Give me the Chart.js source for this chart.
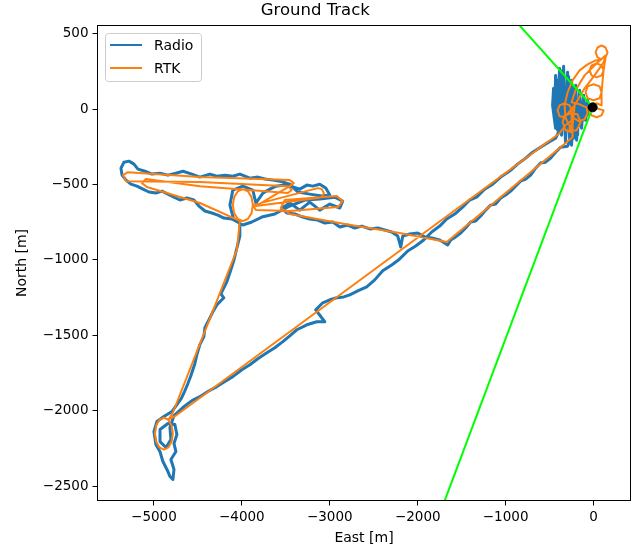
<!DOCTYPE html>
<html>
<head>
<meta charset="utf-8">
<script src="https://cdn.jsdelivr.net/npm/chart.js@4.4.0/dist/chart.umd.min.js"></script>
<style>
  html, body { margin: 0; padding: 0; background: #fff; }
  canvas { display: block; }
</style>
</head>
<body>
<canvas id="track" width="643" height="551"></canvas>
<script>
// Radio track (east / north in metres)
const radioEast = [
  -45,-68,-91,-113,-136,-159,-182,-204,-227,-250,-272,-296,-319,-341,-364,-387,-409,-432,-443,-455,
  -466,-432,-409,-375,-352,-319,-284,-250,-216,-193,-159,-125,-91,-68,-216,-296,
  -375,-432,-488,-546,-603,-659,-716,-772,-830,-887,-943,-1000,-1056,-1114,-1171,-1227,-1284,-1341,-1398,-1455,-1511,-1568,-1625,-1659,
  -1750,-1841,-1921,-2001,-2091,-2170,-2193,-2227,-2296,-2375,-2454,-2545,-2637,-2716,-2796,-2886,-2966,-3057,-3137,-3228,-3307,-3397,-3489,
  -3545,-3455,-3341,-3228,-3114,-3000,-2886,-2853,-2944,-3114,-3284,-3455,-3625,-3773,
  -3887,-3989,-4091,-4136,-4103,-3989,-3875,-3841,
  -3761,-3681,-3613,-3512,-3420,
  -3341,-3261,-3193,-3114,-3046,-3000,-3092,-3228,-3364,-3455,
  -3568,-3648,-3739,-3819,-3909,-4023,-4103,-4193,-4284,-4364,-4478,-4568,-4671,-4750,-4841,-4931,-5023,-5102,-5182,-5227,-5284,-5341,-5375,-5363,
  -5318,-5262,-5194,-5125,-5057,-4978,-4910,-4841,-4772,-4704,-4626,-4546,-4488,-4420,-4341,-4273,-4204,-4114,-4023,
  -4023,-4068,-4090,-4126,-4171,-4239,-4205,-4285,-4330,-4375,-4421,-4432,-4478,-4512,-4535,-4580,-4614,-4652,-4690,-4739,-4795,
  -4887,-4966,-5000,-4978,-4932,-4898,-4852,-4818,-4784,-4772,-4807,-4750,-4772,-4739,-4762,-4841,-4931,-4931,-4863,-4807,-4818,-4772,
  -4671,-4568,-4478,-4387,-4284,-4193,-4103,-4000,-3909,-3819,-3716,-3625,-3534,-3455,-3375,-3261,-3148,-3057,-3160,-3080,
  -3000,-2921,-2841,-2773,-2682,-2580,-2489,-2398,-2296,-2205,-2114,-2023,-1932,-1841,-1750,-1670,-1579,-1489,-1409,-1330,
  -1239,-1147,-1056,-955,-864,-772,-693,-603,-511,-432,-387
];
const radioNorth = [
  -20,60,-73,93,-126,126,-172,159,-192,192,-205,245,-192,285,-172,271,-139,225,-73,139,
  26,-126,192,-152,258,-218,218,-238,139,-205,86,-60,33,-33,-139,-245,
  -252,-285,-324,-351,-357,-391,-437,-463,-477,-510,-543,-569,-589,-629,-636,-669,-708,-741,-748,-788,-821,-847,-867,-900,
  -867,-854,-847,-821,-828,-841,-914,-841,-814,-801,-788,-794,-775,-788,-768,-781,-748,-755,-735,-728,-715,-695,-688,
  -655,-622,-669,-616,-669,-629,-655,-609,-583,-596,-602,-642,-695,-715,
  -748,-768,-735,-636,-536,-510,-536,-622,
  -556,-530,-510,-503,-516,
  -530,-503,-510,-497,-523,-569,-576,-563,-549,-497,
  -477,-470,-463,-450,-457,-430,-444,-437,-444,-430,-450,-430,-411,-424,-437,-424,-430,-411,-397,-364,-344,-351,-391,-437,
  -470,-497,-510,-530,-549,-556,-543,-563,-583,-602,-589,-602,-642,-675,-688,-702,-722,-728,-755,
  -841,-947,-1000,-1066,-1145,-1225,-1251,-1298,-1344,-1397,-1450,-1509,-1562,-1629,-1688,-1768,-1820,-1873,-1920,-1960,-2006,
  -2039,-2072,-2138,-2224,-2271,-2337,-2390,-2436,-2456,-2390,-2324,-2271,-2218,-2158,-2092,-2085,-2125,-2205,-2244,-2191,-2112,-2032,
  -1979,-1933,-1907,-1873,-1840,-1807,-1774,-1728,-1695,-1655,-1615,-1582,-1542,-1503,-1463,-1430,-1410,-1410,-1331,-1284,
  -1264,-1251,-1245,-1231,-1205,-1178,-1132,-1072,-1033,-993,-940,-907,-867,-814,-775,-728,-695,-649,-602,-583,
  -530,-497,-450,-410,-364,-324,-285,-252,-218,-192,-139
];

// RTK track (east / north in metres)
const rtkEast = [
  0,114,91,34,-23,-45,-23,34,91,
  91,68,0,-68,-91,-68,0,68,91,
  114,91,34,-23,-45,-23,34,91,114,
  136,159,136,91,45,23,45,91,
  23,-68,-159,-239,-295,-330,-318,-273,
  -273,-193,-148,-182,-250,-330,-352,-318,-250,
  -250,-273,-330,-386,-409,-386,-330,
  -216,-102,11,114,136,
  45,-102,-205,-250,
  -159,-80,-68,-102,-170,-239,-250,-216,
  -239,-239,
  -1670,-2205,-2829,-3455,-3557,-3512,-2921,-2853,-2909,-3455,-3841,
  -3875,-3890,-3932,-3989,-4046,-4088,-4103,-4088,-4046,-3989,-3932,-3890,-3875,
  -3136,-3091,-3068,-3091,-3136,-3841,
  -3455,-3409,-3455,-4477,-5296,-5352,-5318,-4477,-3477,-3432,-3477,-4477,-5091,-5136,-5080,-4477,-4023,-4057,-4784,
  -4836,-4799,-4785,-4799,-4836,-4887,-4938,-4975,-4989,-4975,-4938,-4887,-4836,-4750,
  -387,-319,-216
];
const rtkNorth = [
  13,-7,-40,-53,-40,-7,26,40,26,
  113,152,166,152,113,73,60,73,113,
  258,291,305,291,258,225,212,225,258,
  344,377,410,424,410,377,344,331,
  324,298,258,192,113,26,-60,-106,
  -146,-139,-86,-33,-26,-40,-86,-139,-152,
  -7,26,40,26,-7,-46,-53,
  26,139,225,311,357,
  311,225,126,46,
  33,13,-26,-66,-79,-53,-13,20,
  -106,-185,
  -880,-821,-761,-695,-655,-602,-576,-609,-649,-675,-669,
  -636,-583,-544,-530,-544,-583,-636,-689,-728,-742,-728,-689,-636,
  -523,-530,-556,-583,-589,-642,
  -510,-490,-470,-450,-417,-437,-477,-483,-510,-536,-556,-510,-463,-490,-516,-622,-741,-933,-2012,
  -2060,-2099,-2152,-2205,-2244,-2258,-2244,-2205,-2152,-2099,-2060,-2046,-2060,-2032,
  -159,-106,-60
];

// antenna pointing limits and home position
const beamLeftEast = [-10, -1672];
const beamLeftNorth = [15, 1097];
const beamRightEast = [-10, -1777];
const beamRightNorth = [15, -2727];
const homeEast = [-10];
const homeNorth = [13];

// axes
const xTicks = [-5000, -4000, -3000, -2000, -1000, 0];
const yTicks = [500, 0, -500, -1000, -1500, -2000, -2500];
const xLimits = [-5642, 420];
const yLimits = [-2596, 556];

function toPoints(east, north) {
    return east.map((e, i) => ({ x: e, y: north[i] }));
}

function minusSign(value) {
    return String(value).replace('-', '\u2212');
}

const font = 'DejaVu Sans';

// spines on all four sides plus a matplotlib style legend
const frameAndLegend = {
    id: 'frameAndLegend',
    afterDatasetsDraw(chart) {
        const ctx = chart.ctx;
        const a = chart.chartArea;
        ctx.save();
        ctx.strokeStyle = '#000';
        ctx.lineWidth = 1;
        ctx.strokeRect(a.left, a.top, a.right - a.left, a.bottom - a.top);

        // legend box
        ctx.fillStyle = 'rgba(255,255,255,0.8)';
        ctx.strokeStyle = '#cccccc';
        ctx.beginPath();
        ctx.roundRect(105.5, 33.5, 96, 48, 3);
        ctx.fill();
        ctx.stroke();

        const items = chart.data.datasets.filter(d => d.label);
        items.forEach((d, i) => {
            const y = 45 + i * 23;
            ctx.strokeStyle = d.borderColor;
            ctx.lineWidth = 2;
            ctx.beginPath();
            ctx.moveTo(110, y);
            ctx.lineTo(142, y);
            ctx.stroke();
            ctx.fillStyle = '#000';
            ctx.font = '14px "' + font + '"';
            ctx.textBaseline = 'middle';
            ctx.fillText(d.label, 154, y + 1);
        });
        ctx.restore();
    }
};

const trackChart = new Chart(document.getElementById('track'), {
    type: 'scatter',
    data: {
        datasets: [
            {
                label: 'Radio',
                data: toPoints(radioEast, radioNorth),
                showLine: true,
                borderColor: '#1f77b4',
                backgroundColor: '#1f77b4',
                borderWidth: 3,
                borderJoinStyle: 'round',
                pointRadius: 0,
                order: 3
            },
            {
                label: 'RTK',
                data: toPoints(rtkEast, rtkNorth),
                showLine: true,
                borderColor: '#ff7f0e',
                backgroundColor: '#ff7f0e',
                borderWidth: 2,
                borderJoinStyle: 'round',
                pointRadius: 0,
                order: 2
            },
            {
                data: toPoints(beamLeftEast, beamLeftNorth),
                showLine: true,
                borderColor: '#00ff00',
                borderWidth: 2,
                pointRadius: 0,
                order: 1
            },
            {
                data: toPoints(beamRightEast, beamRightNorth),
                showLine: true,
                borderColor: '#00ff00',
                borderWidth: 2,
                pointRadius: 0,
                order: 1
            },
            {
                data: toPoints(homeEast, homeNorth),
                pointRadius: 4.5,
                pointBackgroundColor: '#000',
                pointBorderColor: '#000',
                order: 0
            }
        ]
    },
    options: {
        responsive: false,
        animation: false,
        events: [],
        layout: { padding: { left: 0, right: 12.5, top: 0, bottom: 0 } },
        plugins: {
            legend: { display: false },
            tooltip: { enabled: false },
            title: {
                display: true,
                text: 'Ground Track',
                color: '#000',
                font: { family: font, size: 16.5, weight: 'normal' },
                padding: { top: 1, bottom: 4.7 }
            }
        },
        scales: {
            x: {
                type: 'linear',
                min: xLimits[0],
                max: xLimits[1],
                afterBuildTicks: scale => { scale.ticks = xTicks.map(v => ({ value: v })); },
                afterFit: scale => { scale.height = 50.5; },
                grid: { drawOnChartArea: false, color: '#000', tickLength: 5 },
                border: { display: false },
                ticks: {
                    color: '#000',
                    font: { family: font, size: 13.5 },
                    padding: 4,
                    maxRotation: 0,
                    callback: minusSign
                },
                title: {
                    display: true,
                    text: 'East [m]',
                    color: '#000',
                    font: { family: font, size: 14 },
                    padding: { top: 0, bottom: 4.5 }
                }
            },
            y: {
                type: 'linear',
                min: yLimits[0],
                max: yLimits[1],
                afterBuildTicks: scale => { scale.ticks = yTicks.map(v => ({ value: v })); },
                afterFit: scale => { scale.width = 97.5; },
                grid: { drawOnChartArea: false, color: '#000', tickLength: 5 },
                border: { display: false },
                ticks: {
                    color: '#000',
                    font: { family: font, size: 13.5 },
                    padding: 4,
                    callback: minusSign
                },
                title: {
                    display: true,
                    text: 'North [m]',
                    color: '#000',
                    font: { family: font, size: 14 },
                    padding: { top: 13.5, bottom: 0 }
                }
            }
        }
    },
    plugins: [frameAndLegend]
});
</script>
</body>
</html>
